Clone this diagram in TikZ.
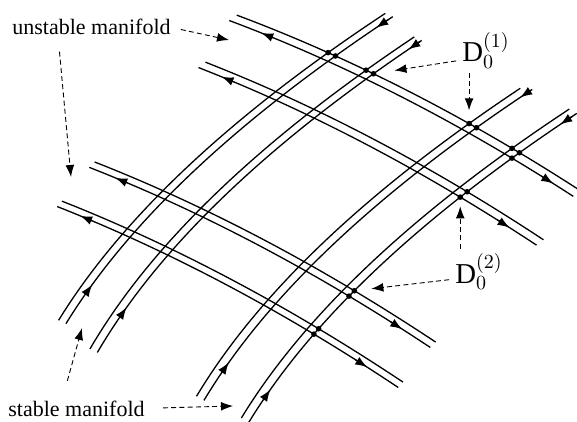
\documentclass[tikz,border=0pt]{standalone}
\usepackage{fontspec}
\setmainfont{Liberation Serif}
\usetikzlibrary{arrows.meta}

\begin{document}
\begin{tikzpicture}[x=0.5pt, y=-0.5pt,
  font=\fontsize{11}{13}\selectfont, >={Latex[length=6pt,width=4.4pt]},
  declare function={
    mx(\p,\q)=328+\p-1.391*\q+0.001468*\q*\q;
    my(\p,\q)=57+0.45*\p+0.00039*\p*\p+\q;},
  wire/.style={line width=0.65pt},
  dot/.style={circle, fill, inner sep=0pt, minimum size=2.8pt},
  hint/.style={->, line width=0.45pt, dash pattern=on 2.5pt off 1.6pt},
  lab/.style={inner sep=0pt}]
\useasboundingbox (0,0) rectangle (577,422);
\foreach \yy/\sa/\sb/\al/\ar in {0/-95/249/-63/229, 39/-74/264/-51/237, 138/-72/269/-46/241, 176/-69/272/-46/241}{
  \draw[wire] plot[domain=\sa:\sb, samples=40, variable=\w] ({mx(\w,\yy-2.7)},{my(\w,\yy-2.7)});
  \draw[wire] plot[domain=\sa:\sb, samples=40, variable=\w] ({mx(\w,\yy+2.7)},{my(\w,\yy+2.7)});
  \draw[wire, ->] ({mx(\al+12,\yy+2.7)},{my(\al+12,\yy+2.7)}) -- ({mx(\al,\yy+2.7)},{my(\al,\yy+2.7)});
  \draw[wire, ->] ({mx(\ar-12,\yy+2.7)},{my(\ar-12,\yy+2.7)}) -- ({mx(\ar,\yy+2.7)},{my(\ar,\yy+2.7)});
}
\foreach \xx/\ta/\tb/\ab/\at in {0/-42/265/226/-31, 38/-36/276/231/-27, 141/-38/270/232/-33, 184/-42/267/234/-31}{
  \draw[wire] plot[domain=\ta:\tb, samples=40, variable=\w] ({mx(\xx-3.7,\w)},{my(\xx-3.7,\w)});
  \draw[wire] plot[domain=\ta:\tb, samples=40, variable=\w] ({mx(\xx+3.7,\w)},{my(\xx+3.7,\w)});
  \draw[wire, ->] ({mx(\xx+3.7,\ab+8)},{my(\xx+3.7,\ab+8)}) -- ({mx(\xx+3.7,\ab)},{my(\xx+3.7,\ab)});
  \draw[wire, ->] ({mx(\xx+3.7,\at-8)},{my(\xx+3.7,\at-8)}) -- ({mx(\xx+3.7,\at)},{my(\xx+3.7,\at)});
}
\foreach \xx [count=\i] in {-3.7,3.7,34.3,41.7,137.3,144.7,180.3,187.7}
  \node[dot] (a\i) at ({mx(\xx,-2.7)},{my(\xx,-2.7)}) {};
\foreach \yy [count=\i] in {2.7,36.3,41.7,135.3,140.7,173.3,178.7}
  \node[dot] (b\i) at ({mx(187.7,\yy)},{my(187.7,\yy)}) {};
\node[lab, anchor=base west] (unst) at (12,35) {unstable manifold};
\node[lab, anchor=base west] (stab) at (8,416) {stable manifold};
\node[lab, anchor=base west, font=\Large] (dOne) at (462,62) {D$_0^{(1)}$};
\node[lab, anchor=base west, font=\Large] (dTwo) at (455,283) {D$_0^{(2)}$};
\coordinate (uTipA) at (229,40);
\coordinate (uTipB) at (71,177);
\coordinate (sTipA) at (233,406);
\coordinate (sTipB) at (82,328);
\draw[hint, shorten <=5pt] (unst.east) -- (uTipA);
\draw[hint, shorten <=8pt] ([xshift=23pt]unst.south west) -- (uTipB);
\draw[hint, shorten <=9pt] (stab.east) -- (sTipA);
\draw[hint, shorten <=10pt] ([xshift=27pt]stab.north west) -- (sTipB);
\draw[hint, shorten <=3pt, shorten >=9pt] ([yshift=1pt]dOne.base west) -- (a4);
\draw[hint, shorten <=2pt, shorten >=5pt] (a5 |- dOne.south) -- (a5);
\draw[hint, shorten <=2pt, shorten >=3pt] (b3 |- dTwo.north) -- (b3);
\draw[hint, shorten <=3pt, shorten >=7pt] ([yshift=2pt]dTwo.base west) -- (b4);
\end{tikzpicture}
\end{document}
